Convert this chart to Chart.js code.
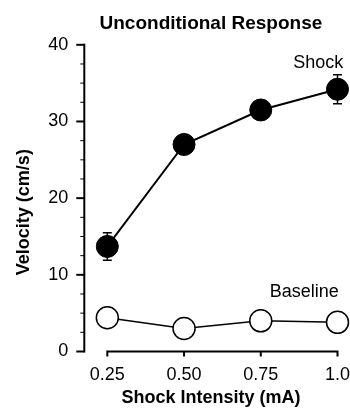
<!DOCTYPE html>
<html>
<head>
<meta charset="utf-8">
<script src="https://cdn.jsdelivr.net/npm/chart.js@4"></script>
<style>
  html, body { margin: 0; padding: 0; background: #fff; }
  #wrap { width: 350px; height: 410px; }
</style>
</head>
<body>
<div id="wrap"><canvas id="myChart"></canvas></div>
<script>
  // valores
  const intensity = [0.25, 0.5, 0.75, 1.0];
  const xLabels = ["0.25", "0.50", "0.75", "1.0"];
  const shock = [13.7, 27.0, 31.5, 34.2];
  const shockErr = [1.8, 0.8, 0.8, 1.9];
  const baseline = [4.4, 3.0, 4.0, 3.8];
  const baselineErr = [0.4, 0.4, 0.4, 0.4];
  const seriesNames = ["Shock", "Baseline"];
  const namePos = [[0.937, 37.0], [0.892, 7.1]];

  Chart.defaults.font.family = "'Liberation Sans', Arial, Helvetica, sans-serif";
  Chart.defaults.color = "#000";

  const extras = {
    id: "extras",
    beforeDatasetsDraw(chart) {
      const ctx = chart.ctx;
      const sx = chart.scales.x;
      const sy = chart.scales.y;
      ctx.save();
      ctx.strokeStyle = "#000";
      ctx.lineWidth = 1.5;
      [[shock, shockErr], [baseline, baselineErr]].forEach(function (par) {
        par[0].forEach(function (v, i) {
          const px = sx.getPixelForValue(intensity[i]);
          const top = sy.getPixelForValue(v + par[1][i]);
          const bot = sy.getPixelForValue(v - par[1][i]);
          ctx.beginPath();
          ctx.moveTo(px, top);
          ctx.lineTo(px, bot);
          ctx.moveTo(px - 4.5, top);
          ctx.lineTo(px + 4.5, top);
          ctx.moveTo(px - 4.5, bot);
          ctx.lineTo(px + 4.5, bot);
          ctx.stroke();
        });
      });
      ctx.restore();
    },
    afterDraw(chart) {
      const ctx = chart.ctx;
      const sx = chart.scales.x;
      const sy = chart.scales.y;
      ctx.save();
      ctx.strokeStyle = "#000";

      // eixo y
      const ax = chart.chartArea.left;
      ctx.lineWidth = 2;
      ctx.beginPath();
      ctx.moveTo(ax, sy.getPixelForValue(0) + 1);
      ctx.lineTo(ax, sy.getPixelForValue(40) - 1);
      ctx.stroke();
      sy.ticks.forEach(function (t) {
        const yy = sy.getPixelForValue(t.value);
        const major = t.value % 10 === 0;
        ctx.lineWidth = major ? 2 : 1;
        ctx.beginPath();
        ctx.moveTo(ax - (major ? 8 : 4), yy);
        ctx.lineTo(ax, yy);
        ctx.stroke();
      });

      // eixo x
      const ay = chart.chartArea.bottom;
      ctx.lineWidth = 2;
      ctx.beginPath();
      ctx.moveTo(sx.getPixelForValue(intensity[0]) - 1, ay);
      ctx.lineTo(sx.getPixelForValue(intensity[intensity.length - 1]) + 1, ay);
      intensity.forEach(function (v) {
        const xx = sx.getPixelForValue(v);
        ctx.moveTo(xx, ay);
        ctx.lineTo(xx, ay + 5);
      });
      ctx.stroke();

      // nomes das series
      ctx.fillStyle = "#000";
      ctx.font = "18px 'Liberation Sans', Arial, sans-serif";
      ctx.textAlign = "center";
      ctx.textBaseline = "alphabetic";
      seriesNames.forEach(function (n, i) {
        ctx.fillText(n, sx.getPixelForValue(namePos[i][0]), sy.getPixelForValue(namePos[i][1]));
      });

      // titulo do eixo y
      ctx.font = "bold 18px 'Liberation Sans', Arial, sans-serif";
      ctx.textBaseline = "middle";
      ctx.translate(24.5, (sy.top + sy.bottom) / 2 + 14);
      ctx.rotate(-Math.PI / 2);
      ctx.fillText("Velocity (cm/s)", 0, 0);
      ctx.restore();
    }
  };

  const ctx = document.getElementById("myChart");

  new Chart(ctx, {
    type: "line",
    data: {
      datasets: [
        {
          label: seriesNames[0],
          data: intensity.map(function (x, i) { return { x: x, y: shock[i] }; }),
          borderColor: "#000",
          borderWidth: 2,
          pointRadius: 11,
          pointBackgroundColor: "#000",
          pointBorderColor: "#000",
          pointBorderWidth: 1,
          clip: false
        },
        {
          label: seriesNames[1],
          data: intensity.map(function (x, i) { return { x: x, y: baseline[i] }; }),
          borderColor: "#000",
          borderWidth: 1.5,
          pointRadius: 11,
          pointBackgroundColor: "#fff",
          pointBorderColor: "#000",
          pointBorderWidth: 1.5,
          clip: false
        }
      ]
    },
    options: {
      animation: false,
      responsive: true,
      maintainAspectRatio: false,
      layout: { padding: { left: 0, right: 11.7, top: 0, bottom: 0 } },
      plugins: {
        legend: { display: false },
        tooltip: { enabled: false },
        title: {
          display: true,
          text: "Unconditional Response",
          fullSize: false,
          font: { size: 19, weight: "bold" },
          color: "#000",
          padding: { top: 12, bottom: 10 }
        }
      },
      scales: {
        x: {
          type: "linear",
          min: 0.175,
          max: 1.0,
          afterBuildTicks: function (s) {
            s.ticks = intensity.map(function (v) { return { value: v }; });
          },
          afterFit: function (s) {
            s.height = 58.5;
            s.paddingLeft = 0;
            s.paddingRight = 0;
          },
          grid: { display: false },
          border: { display: false },
          ticks: {
            callback: function (v, i) { return xLabels[i]; },
            font: { size: 18 },
            color: "#000",
            padding: 5,
            maxRotation: 0,
            autoSkip: false
          },
          title: {
            display: true,
            text: "Shock Intensity (mA)",
            font: { size: 18, weight: "bold" },
            color: "#000",
            padding: { top: 0, bottom: 1 }
          }
        },
        y: {
          min: 0,
          max: 40,
          afterFit: function (s) {
            s.width = 84.3;
          },
          grid: { display: false },
          border: { display: false },
          ticks: {
            stepSize: 2.5,
            autoSkip: false,
            callback: function (v) { return v % 10 === 0 ? v : ""; },
            font: { size: 18 },
            color: "#000",
            padding: 8
          }
        }
      }
    },
    plugins: [extras]
  });
</script>
</body>
</html>
